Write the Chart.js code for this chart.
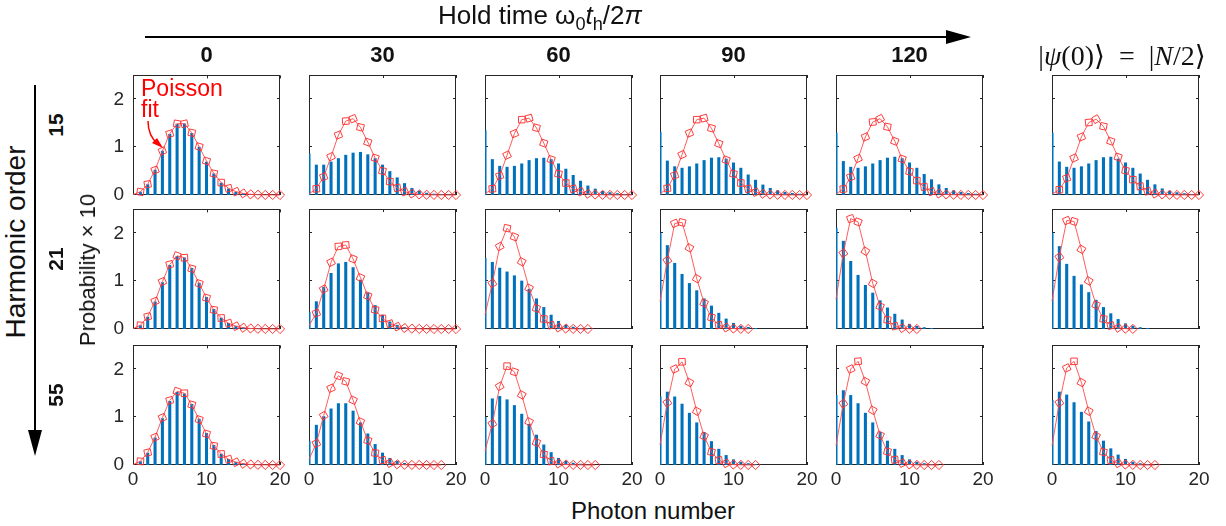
<!DOCTYPE html>
<html><head><meta charset="utf-8">
<script src="https://cdn.jsdelivr.net/npm/chart.js@4"></script>
<style>
body{margin:0;width:1226px;height:526px;background:#fff;position:relative;overflow:hidden;font-family:"Liberation Sans",Arial,sans-serif;color:#111}
.panel{position:absolute;line-height:0}
.t{position:absolute;white-space:nowrap;line-height:1;transform:translate(-50%,-50%);z-index:5}
.rot{transform:translate(-50%,-50%) rotate(-90deg)}
.b{font-weight:bold}
svg{position:absolute;left:0;top:0;pointer-events:none;z-index:6}
</style></head><body>
<script>
// ---------- data ----------
const photonNumbers = [0,1,2,3,4,5,6,7,8,9,10,11,12,13,14,15,16,17,18,19,20];
const holdTimes = ['0','30','60','90','120'];
const harmonicOrders = ['15','21','55'];
const xTicks = [0,10,20];
const yTicks = [0,1,2];

// measured probability x10 (bars) and Poisson fit (red) — harmonic order 15
const p15_t0    = [0.01,0.06,0.22,0.52,0.92,1.27,1.48,1.49,1.29,1.00,0.69,0.44,0.25,0.13,0.06,0.03,0.012,0.005];
const fit15_t0  = [0.01,0.065,0.225,0.52,0.92,1.28,1.49,1.49,1.30,1.01,0.71,0.45,0.26,0.14,0.07,0.033,0.014,0.006,0.002,0.001,0.0];
const p15_t30   = [0.86,0.625,0.625,0.69,0.76,0.83,0.875,0.89,0.84,0.76,0.625,0.49,0.36,0.24,0.14,0.083,0.04,0.02,0.01,0.005];
const fit15_t30 = [0.025,0.13,0.38,0.80,1.25,1.54,1.59,1.41,1.10,0.77,0.50,0.28,0.15,0.07,0.03,0.012,0.005,0.002,0.001,0,0];
const p15_t60   = [1.34,0.74,0.60,0.58,0.60,0.65,0.72,0.76,0.77,0.74,0.65,0.54,0.41,0.29,0.19,0.125,0.076,0.05,0.03,0.015,0.008];
const fit15_t60 = [0.025,0.13,0.40,0.83,1.28,1.57,1.60,1.40,1.08,0.74,0.44,0.25,0.13,0.07,0.025,0.01,0.004,0.002,0.001,0,0];
const p15_t90   = [1.31,0.71,0.59,0.56,0.59,0.65,0.72,0.77,0.78,0.75,0.67,0.56,0.42,0.31,0.21,0.14,0.09,0.055,0.035,0.02,0.01];
const fit15_t90 = [0.025,0.14,0.41,0.84,1.29,1.57,1.60,1.39,1.07,0.73,0.44,0.25,0.13,0.06,0.025,0.01,0.004,0.002,0.001,0,0];
const p15_t120  = [1.29,0.70,0.58,0.56,0.59,0.65,0.72,0.77,0.79,0.76,0.67,0.56,0.43,0.32,0.215,0.14,0.09,0.055,0.035,0.02,0.01];
const fit15_t120= [0.02,0.125,0.375,0.76,1.21,1.52,1.59,1.42,1.12,0.75,0.49,0.30,0.17,0.07,0.03,0.012,0.005,0.002,0.001,0,0];
const p15_half  = [1.29,0.69,0.58,0.56,0.59,0.65,0.72,0.78,0.79,0.75,0.67,0.56,0.44,0.31,0.215,0.13,0.08,0.05,0.03,0.015,0.008];
const fit15_half= [0.02,0.11,0.35,0.77,1.21,1.51,1.58,1.43,1.12,0.79,0.51,0.32,0.18,0.08,0.03,0.012,0.005,0.002,0.001,0,0];
// harmonic order 21
const p21_t0    = [0.01,0.07,0.25,0.57,0.97,1.33,1.52,1.49,1.27,0.96,0.66,0.41,0.23,0.12,0.06,0.03,0.012,0.005];
const fit21_t0  = [0.011,0.076,0.26,0.58,0.99,1.35,1.53,1.49,1.26,0.95,0.65,0.40,0.23,0.12,0.058,0.026,0.011,0.004,0.002,0.001,0];
const p21_t30   = [0.34,0.57,0.87,1.16,1.36,1.39,1.28,1.02,0.75,0.49,0.29,0.15,0.08,0.035,0.015,0.005];
const fit21_t30 = [0.07,0.33,0.83,1.39,1.72,1.75,1.46,1.07,0.69,0.40,0.22,0.11,0.05,0.02,0.008,0.003,0.001,0,0,0,0];
const p21_t60   = [1.47,1.39,1.27,1.19,1.11,1.00,0.83,0.63,0.45,0.29,0.16,0.08,0.04,0.015,0.005];
const fit21_t60 = [0.30,0.95,1.72,2.10,1.92,1.40,0.85,0.43,0.21,0.08,0.03,0.01,0.003,0.001,0];
const p21_t90   = [2.00,1.74,1.37,1.14,0.95,0.80,0.63,0.48,0.33,0.21,0.12,0.06,0.035,0.014];
const fit21_t90 = [0.57,1.43,2.20,2.22,1.69,1.05,0.54,0.24,0.08,0.03,0.01,0.003,0.001];
const p21_t120  = [2.10,1.83,1.41,1.12,0.91,0.75,0.59,0.44,0.31,0.19,0.10,0.056,0.03,0.014];
const fit21_t120= [0.62,1.58,2.30,2.23,1.62,0.95,0.47,0.19,0.06,0.02,0.005,0.001];
const p21_half  = [2.00,1.72,1.35,1.10,0.92,0.76,0.60,0.45,0.32,0.20,0.11,0.06,0.03,0.012];
const fit21_half= [0.58,1.50,2.26,2.24,1.66,1.00,0.50,0.21,0.07,0.025,0.007,0.002];
// harmonic order 55
const p55_t0    = [0.01,0.07,0.25,0.57,0.97,1.33,1.52,1.49,1.27,0.96,0.66,0.41,0.23,0.12,0.06,0.03,0.012,0.005];
const fit55_t0  = [0.011,0.076,0.26,0.58,0.99,1.35,1.54,1.50,1.26,0.95,0.65,0.40,0.23,0.12,0.058,0.026,0.011,0.004,0.002,0.001,0];
const p55_t30   = [0.50,0.83,1.01,1.17,1.28,1.28,1.125,0.88,0.65,0.43,0.25,0.14,0.076,0.035,0.014];
const fit55_t30 = [0.12,0.45,1.03,1.60,1.86,1.74,1.35,0.90,0.51,0.25,0.10,0.04,0.015,0.005,0.002,0.001,0,0,0];
const p55_t60   = [0.99,1.38,1.43,1.36,1.24,1.06,0.85,0.625,0.42,0.26,0.14,0.076,0.04,0.02];
const fit55_t60 = [0.29,0.86,1.64,2.06,1.94,1.46,0.90,0.47,0.22,0.08,0.03,0.01,0.003,0.001,0,0];
const p55_t90   = [1.42,1.52,1.42,1.27,1.08,0.88,0.68,0.49,0.33,0.20,0.11,0.06,0.03,0.012];
const fit55_t90 = [0.42,1.30,2.00,2.15,1.72,1.12,0.60,0.27,0.10,0.035,0.01,0.003,0.001,0];
const p55_t120  = [1.45,1.55,1.45,1.28,1.08,0.88,0.68,0.50,0.33,0.20,0.11,0.06,0.03,0.012];
const fit55_t120= [0.40,1.28,2.00,2.16,1.74,1.14,0.62,0.28,0.11,0.04,0.012,0.003,0.001,0,0];
const p55_half  = [1.35,1.52,1.46,1.30,1.10,0.90,0.70,0.50,0.34,0.21,0.12,0.06,0.03,0.012];
const fit55_half= [0.40,1.30,2.02,2.16,1.72,1.12,0.60,0.27,0.10,0.035,0.01,0.003,0.001,0,0];

const grid = [
  [[p15_t0,fit15_t0],[p15_t30,fit15_t30],[p15_t60,fit15_t60],[p15_t90,fit15_t90],[p15_t120,fit15_t120],[p15_half,fit15_half]],
  [[p21_t0,fit21_t0],[p21_t30,fit21_t30],[p21_t60,fit21_t60],[p21_t90,fit21_t90],[p21_t120,fit21_t120],[p21_half,fit21_half]],
  [[p55_t0,fit55_t0],[p55_t30,fit55_t30],[p55_t60,fit55_t60],[p55_t90,fit55_t90],[p55_t120,fit55_t120],[p55_half,fit55_half]]
];

// ---------- layout ----------
const colLeft = [133,309,485,660,836,1052];
const rowTop = [75,209,345];
const PW = 147, PH = 120, PADL = 40, PADT = 10, PADR = 15, PADB = 32;
const AX = '#262626';
const tickFont = {family:'"Liberation Sans", Arial, sans-serif', size:19};

const boxPlugin = {
  id:'box',
  beforeDatasetsDraw(chart){
    const {ctx, chartArea:a, scales:{x,y}} = chart;
    ctx.save();
    ctx.strokeStyle = AX; ctx.lineWidth = 1;
    ctx.strokeRect(Math.round(a.left)+0.5, Math.round(a.top)+0.5, Math.round(a.right-a.left)-1, Math.round(a.bottom-a.top)-1);
    ctx.beginPath();
    x.ticks.forEach(t=>{const px=Math.round(x.getPixelForValue(t.value))+0.5;
      ctx.moveTo(px,a.bottom); ctx.lineTo(px,a.bottom-3);
      ctx.moveTo(px,a.top); ctx.lineTo(px,a.top+3);});
    y.ticks.forEach(t=>{const py=Math.round(y.getPixelForValue(t.value))-0.5;
      ctx.moveTo(a.left,py); ctx.lineTo(a.left+3,py);
      ctx.moveTo(a.right,py); ctx.lineTo(a.right-3,py);});
    ctx.stroke();
    ctx.restore();
  }
};

// marker orientation follows the local direction of the fit line
function markerRotation(ctx){
  const d = ctx.dataset.data, i = ctx.dataIndex, ch = ctx.chart;
  const xs = ch.scales.x, ys = ch.scales.y;
  if (!xs || !ys || !d || d.length < 2) return 0;
  const a = d[Math.max(0,i-1)], b = d[Math.min(d.length-1,i+1)];
  const dx = xs.getPixelForValue(b.x)-xs.getPixelForValue(a.x);
  const dy = ys.getPixelForValue(b.y)-ys.getPixelForValue(a.y);
  return Math.atan2(dy,dx)*180/Math.PI;
}

function makeChart(r,c,meas,fit,W,H){
  const div = document.createElement('div');
  div.className='panel';
  const cv = document.createElement('canvas');
  cv.width=W; cv.height=H; cv.style.width=W+'px'; cv.style.height=H+'px';
  div.appendChild(cv); document.body.appendChild(div);
  const chart = new Chart(cv,{
    type:'bar',
    data:{datasets:[
      {type:'line', data: fit.map((v,i)=>({x:photonNumbers[i],y:v})), borderColor:'rgba(255,75,75,0.9)', borderWidth:1,
        pointStyle:'rectRot', pointRadius:ctx=>ctx.dataIndex===0?0:4.6, pointRotation:markerRotation,
        pointBorderColor:'rgba(255,50,50,0.95)',
        pointBackgroundColor:'rgba(255,255,255,0)', pointBorderWidth:1, tension:0, clip:false, order:0},
      {type:'bar', data: meas.map((v,i)=>({x:photonNumbers[i],y:v})), backgroundColor:'#0072BD', borderWidth:0,
        barThickness:2.4, order:1}
    ]},
    options:{
      responsive:false, maintainAspectRatio:false, animation:false, devicePixelRatio:1,
      layout:{padding:{top:PADT,right:PADR,left:0,bottom:0}, autoPadding:false},
      plugins:{legend:{display:false},tooltip:{enabled:false}},
      scales:{
        x:{type:'linear',min:0,max:20,offset:false,
           grid:{display:false,drawTicks:false},border:{display:false},
           ticks:{display:r===2,font:tickFont,color:AX,padding:3,maxRotation:0,autoSkip:false},
           afterBuildTicks:s=>{s.ticks=xTicks.map(v=>({value:v}));},
           afterFit:s=>{s.height=PADB;}},
        y:{type:'linear',min:0,max:2.5,
           grid:{display:false,drawTicks:false},border:{display:false},
           ticks:{display:c===0,font:tickFont,color:AX,padding:9},
           afterBuildTicks:s=>{s.ticks=yTicks.map(v=>({value:v}));},
           afterFit:s=>{s.width=PADL;}}
      }
    },
    plugins:[boxPlugin]
  });
  return {div, chart};
}

grid.forEach((rowData,r)=>{
  rowData.forEach(([meas,fit],c)=>{
    let W = PW+PADL+PADR, H = PH+PADT+PADB;
    let {div, chart} = makeChart(r,c,meas,fit,W,H);
    const a = chart.chartArea;
    const dW = PW-(a.right-a.left), dH = PH-(a.bottom-a.top);
    if (Math.abs(dW)>0.01 || Math.abs(dH)>0.01){
      chart.destroy(); div.remove();
      ({div, chart} = makeChart(r,c,meas,fit,Math.round(W+dW),Math.round(H+dH)));
    }
    const a2 = chart.chartArea;
    div.style.left=(colLeft[c]-a2.left)+'px';
    div.style.top=(rowTop[r]-a2.top)+'px';
  });
});

// ---------- text ----------
function addText(html,x,y,cls,style){
  const d=document.createElement('div'); d.className='t '+(cls||''); d.innerHTML=html;
  d.style.left=x+'px'; d.style.top=y+'px'; if(style) d.style.cssText+=style;
  document.body.appendChild(d); return d;
}
holdTimes.forEach((h,c)=>addText(h,colLeft[c]+PW/2,55,'b','font-size:22px;'));
harmonicOrders.forEach((h,r)=>addText(h,55,rowTop[r]+50,'b rot','font-size:21px;'));
addText('Hold time ω<sub style="font-size:0.7em">0</sub><i>t</i><sub style="font-size:0.7em">h</sub>/2<i>π</i>',540,18,'','font-size:26px;');
addText('<span style="font-family:\'Liberation Serif\',\'DejaVu Serif\',serif">|<i>ψ</i>(0)⟩&nbsp;&nbsp;=&nbsp;&nbsp;|<i>N</i>/2⟩</span>',1122,56,'','font-size:28px;');
addText('Harmonic order',16,242,'rot','font-size:28px;');
addText('Probability × 10',88,270,'rot','font-size:22px;');
addText('Photon number',653,511,'','font-size:24px;');
addText('Poisson<br>fit',141,78,'','font-size:23px;color:#ff0000;transform:none;line-height:21px;');
</script>
<svg width="1226" height="526">
  <line x1="145" y1="37" x2="950" y2="37" stroke="#000" stroke-width="2"/>
  <polygon points="946,30 971,37 946,44" fill="#000"/>
  <line x1="35" y1="85" x2="35" y2="432" stroke="#000" stroke-width="2"/>
  <polygon points="28,430 35,456 42,430" fill="#000"/>
  <path d="M148,121 Q148,136 158,144" fill="none" stroke="#ff0000" stroke-width="1.5"/>
  <polygon points="152,143 163,148 157,138" fill="#ff0000"/>
</svg>
</body></html>
